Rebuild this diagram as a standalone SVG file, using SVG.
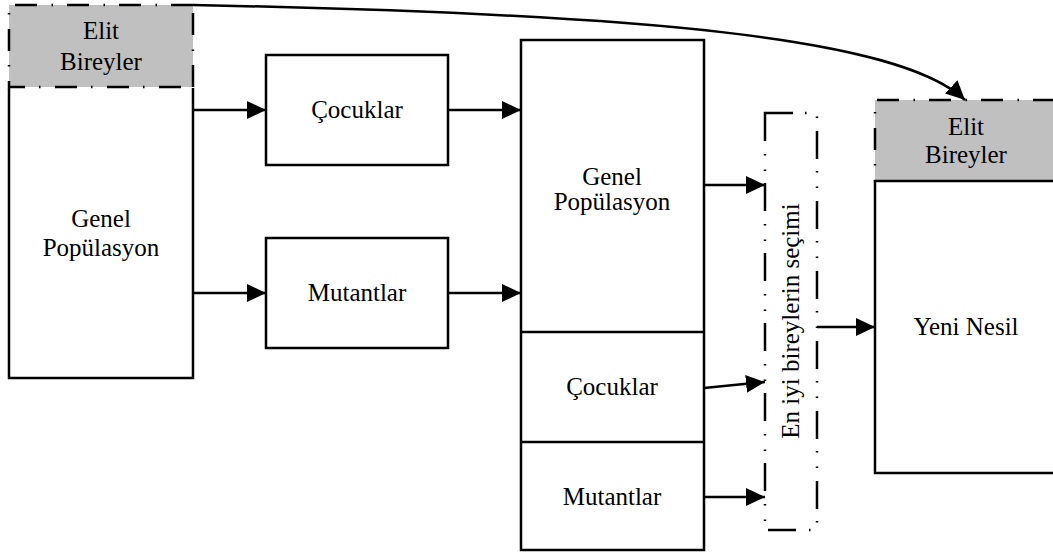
<svg xmlns="http://www.w3.org/2000/svg" width="1053" height="557" viewBox="0 0 1053 557">
<style>
.box{fill:#fff;stroke:#000;stroke-width:2.5}
.elit{fill:#c0c0c0;stroke:none}
.dd{fill:none;stroke:#000;stroke-width:2.5;stroke-dasharray:22 14 1.5 14.5}
.ddd{fill:none;stroke:#000;stroke-width:2.5;stroke-dasharray:28 12 1.5 14 1.5 13}
.solid{fill:none;stroke:#000;stroke-width:2.5}
text{font-family:"Liberation Serif","DejaVu Serif","Times New Roman",serif;font-size:25px;fill:#000;text-anchor:middle}
.c{fill:none;stroke:#000;stroke-width:2.5;marker-end:url(#ah)}
</style>
<defs>
<marker id="ah" markerUnits="userSpaceOnUse" markerWidth="20" markerHeight="18" refX="19" refY="9" orient="auto">
<path d="M0,0 L19,9 L0,18 Z" fill="#000"/>
</marker>
</defs>
<rect width="1053" height="557" fill="#fff"/>

<g id="elit-left">
<rect class="elit" x="9" y="5" width="184" height="82"/>
<path class="dd" d="M193,5 L9,5 L9,87 L193,87"/>
<path class="dd" d="M193,87 L193,5"/>
<text x="101" y="39" font-family="Liberation Serif, serif">Elit</text>
<text x="101" y="70" font-family="Liberation Serif, serif">Bireyler</text>
</g>

<g id="genel-left">
<path class="solid" d="M9,88 L9,378 L193,378 L193,88"/>
<text x="101" y="227" font-family="Liberation Serif, serif">Genel</text>
<text x="101" y="256" font-family="Liberation Serif, serif">Popülasyon</text>
</g>

<g id="cocuklar1">
<rect class="box" x="266" y="55" width="182" height="110"/>
<text x="357" y="118" font-family="Liberation Serif, serif">Çocuklar</text>
</g>

<g id="mutantlar1">
<rect class="box" x="266" y="238" width="182" height="110"/>
<text x="357" y="301" font-family="Liberation Serif, serif">Mutantlar</text>
</g>

<g id="genel-mid">
<rect class="box" x="521" y="40" width="183" height="510"/>
<line class="solid" x1="521" y1="332" x2="704" y2="332"/>
<line class="solid" x1="521" y1="442" x2="704" y2="442"/>
<text x="612" y="185" font-family="Liberation Serif, serif">Genel</text>
<text x="612" y="210" font-family="Liberation Serif, serif">Popülasyon</text>
</g>

<g id="cocuklar2">
<text x="612" y="395" font-family="Liberation Serif, serif">Çocuklar</text>
</g>

<g id="mutantlar2">
<text x="612" y="505" font-family="Liberation Serif, serif">Mutantlar</text>
</g>

<g id="secim">
<rect class="ddd" x="765" y="113" width="52" height="417"/>
<text transform="translate(799,321) rotate(-90)" font-family="Liberation Serif, serif">En iyi bireylerin seçimi</text>
</g>

<g id="elit-right">
<rect class="elit" x="875" y="100" width="180" height="81"/>
<path class="dd" d="M1055,100 L875,100 L875,181"/>
<text x="966" y="135" font-family="Liberation Serif, serif">Elit</text>
<text x="966" y="163" font-family="Liberation Serif, serif">Bireyler</text>
</g>

<g id="yeni-nesil">
<path class="solid" d="M1056,181 L875,181 L875,473 L1056,473"/>
<text x="966" y="335" font-family="Liberation Serif, serif">Yeni Nesil</text>
</g>

<g id="connectors">
<line class="c" x1="193" y1="110" x2="266" y2="110"/>
<line class="c" x1="193" y1="293" x2="266" y2="293"/>
<line class="c" x1="448" y1="110" x2="521" y2="110"/>
<line class="c" x1="448" y1="293" x2="521" y2="293"/>
<line class="c" x1="704" y1="185" x2="765" y2="185"/>
<line class="c" x1="704" y1="388" x2="765" y2="382"/>
<line class="c" x1="704" y1="497" x2="765" y2="497"/>
<line class="c" x1="817" y1="327" x2="875" y2="327"/>
<path class="c" d="M193,5 C650,14 900,38 965,100"/>
</g>
</svg>
